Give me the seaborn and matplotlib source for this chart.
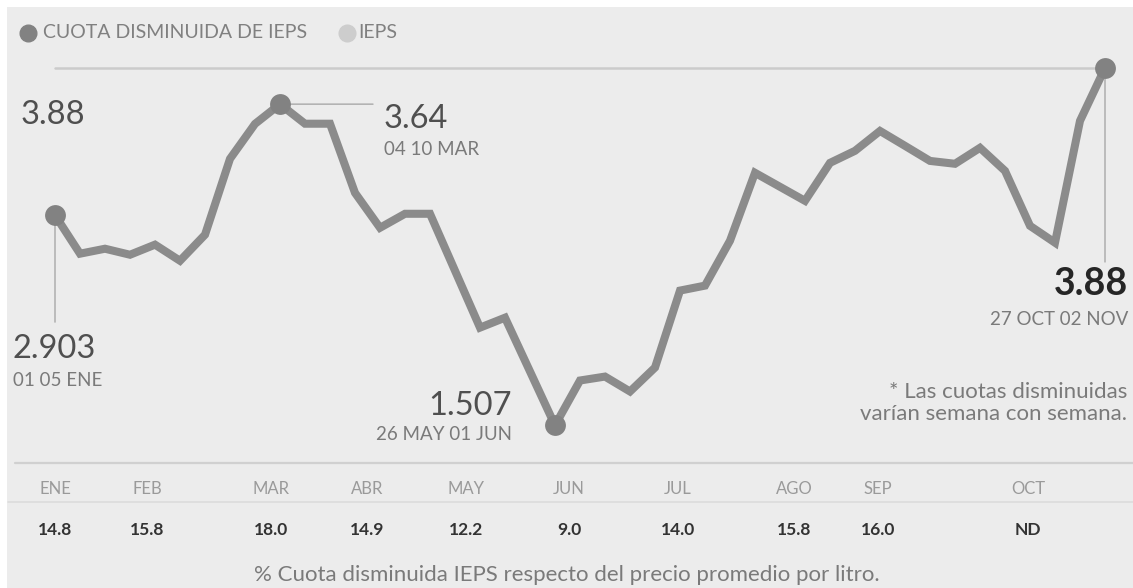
import matplotlib
matplotlib.use("Agg")
import matplotlib.pyplot as plt
import matplotlib.transforms as mtransforms
from matplotlib.lines import Line2D
import pandas as pd
import seaborn as sns

# Weekly reduced IEPS quota (pesos per litre), first week of January to 27 Oct - 02 Nov
semanas = list(range(43))
cuota = [2.903, 2.647, 2.680, 2.640, 2.707, 2.600, 2.773, 3.277, 3.509, 3.64,
         3.51, 3.51, 3.051, 2.819, 2.912, 2.912, 2.534, 2.156, 2.222, 1.865,
         1.507, 1.805, 1.831, 1.732, 1.891, 2.402, 2.435, 2.733, 3.184, 3.091,
         2.998, 3.250, 3.330, 3.462, 3.363, 3.263, 3.244, 3.350, 3.197, 2.832,
         2.720, 3.529, 3.88]

# Highlighted weeks and their date captions
destacados = [0, 9, 20, 42]
fechas = ["01 05 ENE", "04 10 MAR", "26 MAY 01 JUN", "27 OCT 02 NOV"]

# Monthly share of the reduced quota in the average price per litre (%)
meses = ["ENE", "FEB", "MAR", "ABR", "MAY", "JUN", "JUL", "AGO", "SEP", "OCT"]
porcentaje = ["14.8", "15.8", "18.0", "14.9", "12.2", "9.0", "14.0", "15.8", "16.0", "ND"]
# where each month column sits along the week axis
pos_meses = [0.0, 3.68, 8.64, 12.48, 16.44, 20.56, 24.92, 29.56, 32.92, 38.92]

df = pd.DataFrame({"semana": semanas, "cuota": cuota})
marcas = df.iloc[destacados]

sns.set_theme(style="white")
plt.rcParams["font.family"] = ["Lato", "DejaVu Sans"]

W, H = 1133, 588
fig = plt.figure(figsize=(W / 100, H / 100), dpi=100, facecolor="white")
ax = fig.add_axes([7 / W, 0, 1 - 7 / W, 1 - 7 / H])
ax.set_facecolor("#ececec")
for s in ax.spines.values():
    s.set_visible(False)
ax.set_xticks([])
ax.set_yticks([])
ax.set_xlim(-1.92, 43.12)
ax.set_ylim(0.4272, 4.285)

LINE = "#8b8b8b"
DOT = "#828282"
GRIS = "#7a7a7a"

# reference line at the latest value
ax.plot([semanas[0], semanas[-1]], [cuota[-1], cuota[-1]], color="#cbcbcb", lw=1.8, zorder=1)

sns.lineplot(data=df, x="semana", y="cuota", color=LINE, linewidth=5.8, ax=ax,
             solid_joinstyle="miter", solid_capstyle="butt", zorder=3, legend=False)
sns.scatterplot(data=marcas, x="semana", y="cuota", color=DOT, s=225, linewidth=0,
                ax=ax, zorder=4, legend=False)
ax.set_xlabel("")
ax.set_ylabel("")

leader = dict(arrowstyle="-", color="#a8a8a8", lw=1.0, shrinkA=0, shrinkB=0)

def etiqueta(i, valor_off, fecha_off, ha, fecha, bold=False):
    x, y = semanas[i], cuota[i]
    ax.annotate(str(cuota[i]), xy=(x, y), xytext=valor_off, textcoords="offset pixels",
                ha=ha, va="baseline", fontsize=27 if bold else 23.5,
                fontweight="bold" if bold else "normal",
                color="#262626" if bold else "#4f4f4f", zorder=5)
    ax.annotate(fecha, xy=(x, y), xytext=fecha_off, textcoords="offset pixels",
                ha=ha, va="baseline", fontsize=13.5, fontweight="normal",
                color=GRIS, zorder=5)

# leaders from highlighted points to their captions
ax.annotate("", xy=(semanas[0], cuota[0]), xytext=(0, -107), textcoords="offset pixels",
            arrowprops=leader)
ax.annotate("", xy=(semanas[9], cuota[9]), xytext=(93, 0), textcoords="offset pixels",
            arrowprops=leader)
ax.annotate("", xy=(semanas[42], cuota[42]), xytext=(0, -194), textcoords="offset pixels",
            arrowprops=leader)

etiqueta(0, (-42, -143), (-42, -171), "left", fechas[0])
etiqueta(9, (104, -24), (104, -51), "left", fechas[1])
etiqueta(20, (-43, 10), (-43, -15), "right", fechas[2])
etiqueta(42, (23, -227), (23, -257), "right", fechas[3], bold=True)

# value of the reference line, at its left end
ax.annotate(str(cuota[-1]), xy=(semanas[0], cuota[-1]), xytext=(-34, -56),
            textcoords="offset pixels", ha="left", va="baseline", fontsize=23.5,
            fontweight="normal", color="#4f4f4f")

def fx(px):
    return px / W

def fy(py):
    return 1 - py / H

# legend
fig.add_artist(Line2D([fx(28)], [fy(33)], marker="o", markersize=12, color=DOT, lw=0))
fig.text(fx(43), fy(33), "CUOTA DISMINUIDA DE IEPS", ha="left", va="center",
         fontsize=14, fontweight="normal", color="#808080")
fig.add_artist(Line2D([fx(347)], [fy(33)], marker="o", markersize=12, color="#cdcdcd", lw=0))
fig.text(fx(358), fy(33), "IEPS", ha="left", va="center",
         fontsize=14, fontweight="normal", color="#808080")

# note
fig.text(fx(1127), fy(398), "* Las cuotas disminuidas", ha="right", va="baseline",
         fontsize=16, fontweight="normal", color=GRIS)
fig.text(fx(1127), fy(420), "varían semana con semana.", ha="right", va="baseline",
         fontsize=16, fontweight="normal", color=GRIS)

# monthly table below the chart
fig.add_artist(Line2D([fx(15), fx(1133)], [fy(463), fy(463)], color="#d0d0d0", lw=1.6))
fig.add_artist(Line2D([fx(8), fx(1133)], [fy(502), fy(502)], color="#dcdcdc", lw=1.2))
blend = mtransforms.blended_transform_factory(ax.transData, fig.transFigure)
for mes, pct, xp in zip(meses, porcentaje, pos_meses):
    ax.text(xp, fy(494), mes, transform=blend, ha="center", va="baseline",
            fontsize=12, fontweight="normal", color="#9a9a9a")
    ax.text(xp, fy(535), pct, transform=blend, ha="center", va="baseline",
            fontsize=12.5, fontweight="bold", color="#333333")

fig.text(fx(567), fy(581), "% Cuota disminuida IEPS respecto del precio promedio por litro.",
         ha="center", va="baseline", fontsize=16, fontweight="normal", color=GRIS)

fig.savefig("out.png", dpi=100, facecolor="white")
